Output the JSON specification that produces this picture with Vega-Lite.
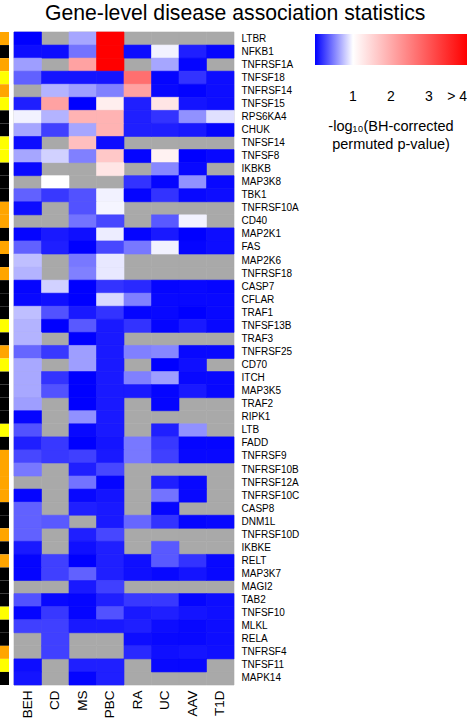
{
  "$schema": "https://vega.github.io/schema/vega-lite/v6.json",
  "padding": {"left": 0, "top": 2, "right": 0, "bottom": 0},
  "background": "white",
  "title": {"text": "Gene-level disease association statistics", "font": "Liberation Sans", "fontSize": 21.2, "fontWeight": "normal", "color": "#000", "anchor": "start", "dx": 45, "offset": 8},
  "spacing": 4,
  "data": {"values": [
    {"gene":"LTBR","type":"receptor","BEH":0.0,"CD":null,"MS":0.65,"PBC":4,"RA":null,"UC":null,"AAV":null,"T1D":null},
    {"gene":"NFKB1","type":"signalling","BEH":0.05,"CD":0.05,"MS":0.45,"PBC":4,"RA":0.05,"UC":0.95,"AAV":0.12,"T1D":0.02},
    {"gene":"TNFRSF1A","type":"receptor","BEH":0.62,"CD":null,"MS":2.1,"PBC":4,"RA":null,"UC":0.65,"AAV":0.02,"T1D":null},
    {"gene":"TNFSF18","type":"ligand","BEH":0.38,"CD":0.08,"MS":0.08,"PBC":0.08,"RA":2.7,"UC":0.02,"AAV":0.2,"T1D":0.05},
    {"gene":"TNFRSF14","type":"receptor","BEH":null,"CD":0.7,"MS":0.62,"PBC":0.5,"RA":2.1,"UC":0.03,"AAV":0.01,"T1D":0.05},
    {"gene":"TNFSF15","type":"ligand","BEH":0.12,"CD":2.1,"MS":0.0,"PBC":1.2,"RA":0.12,"UC":1.3,"AAV":0.08,"T1D":0.05},
    {"gene":"RPS6KA4","type":"signalling","BEH":0.95,"CD":0.7,"MS":1.9,"PBC":1.9,"RA":0.12,"UC":0.2,"AAV":0.57,"T1D":0.88},
    {"gene":"CHUK","type":"signalling","BEH":0.65,"CD":0.25,"MS":0.65,"PBC":1.9,"RA":0.12,"UC":0.12,"AAV":0.1,"T1D":0.02},
    {"gene":"TNFSF14","type":"ligand","BEH":0.05,"CD":null,"MS":1.75,"PBC":0.05,"RA":null,"UC":null,"AAV":null,"T1D":null},
    {"gene":"TNFSF8","type":"ligand","BEH":0.65,"CD":0.82,"MS":0.5,"PBC":1.65,"RA":0.02,"UC":1.15,"AAV":0.0,"T1D":0.03},
    {"gene":"IKBKB","type":"signalling","BEH":0.03,"CD":null,"MS":null,"PBC":1.3,"RA":null,"UC":0.53,"AAV":0.03,"T1D":null},
    {"gene":"MAP3K8","type":"signalling","BEH":null,"CD":1.0,"MS":null,"PBC":null,"RA":0.2,"UC":0.02,"AAV":0.57,"T1D":0.03},
    {"gene":"TBK1","type":"signalling","BEH":0.38,"CD":0.22,"MS":0.32,"PBC":0.95,"RA":0.02,"UC":0.2,"AAV":0.03,"T1D":0.05},
    {"gene":"TNFRSF10A","type":"receptor","BEH":0.05,"CD":null,"MS":0.32,"PBC":0.96,"RA":null,"UC":null,"AAV":null,"T1D":null},
    {"gene":"CD40","type":"receptor","BEH":null,"CD":null,"MS":0.45,"PBC":0.28,"RA":null,"UC":0.35,"AAV":0.95,"T1D":null},
    {"gene":"MAP2K1","type":"signalling","BEH":0.02,"CD":0.1,"MS":0.06,"PBC":0.93,"RA":0.02,"UC":0.1,"AAV":0.0,"T1D":0.05},
    {"gene":"FAS","type":"receptor","BEH":0.38,"CD":0.12,"MS":0.0,"PBC":0.28,"RA":0.47,"UC":0.95,"AAV":0.02,"T1D":0.05},
    {"gene":"MAP2K6","type":"signalling","BEH":0.75,"CD":null,"MS":0.47,"PBC":0.91,"RA":null,"UC":null,"AAV":null,"T1D":null},
    {"gene":"TNFRSF18","type":"receptor","BEH":0.7,"CD":null,"MS":0.5,"PBC":0.91,"RA":null,"UC":null,"AAV":null,"T1D":null},
    {"gene":"CASP7","type":"signalling","BEH":0.02,"CD":0.82,"MS":0.0,"PBC":0.2,"RA":0.16,"UC":0.02,"AAV":0.03,"T1D":0.02},
    {"gene":"CFLAR","type":"signalling","BEH":0.03,"CD":0.06,"MS":0.0,"PBC":0.85,"RA":0.5,"UC":0.03,"AAV":0.03,"T1D":0.03},
    {"gene":"TRAF1","type":"signalling","BEH":0.75,"CD":0.32,"MS":0.1,"PBC":0.2,"RA":0.02,"UC":0.03,"AAV":0.0,"T1D":0.03},
    {"gene":"TNFSF13B","type":"ligand","BEH":0.7,"CD":0.0,"MS":0.35,"PBC":0.1,"RA":0.2,"UC":0.02,"AAV":0.1,"T1D":0.03},
    {"gene":"TRAF3","type":"signalling","BEH":0.7,"CD":null,"MS":0.0,"PBC":0.1,"RA":null,"UC":null,"AAV":null,"T1D":null},
    {"gene":"TNFRSF25","type":"receptor","BEH":0.4,"CD":0.22,"MS":0.62,"PBC":0.1,"RA":0.5,"UC":0.53,"AAV":0.03,"T1D":0.03},
    {"gene":"CD70","type":"ligand","BEH":0.66,"CD":null,"MS":0.62,"PBC":0.1,"RA":null,"UC":0.0,"AAV":0.06,"T1D":null},
    {"gene":"ITCH","type":"signalling","BEH":0.66,"CD":0.2,"MS":0.0,"PBC":0.1,"RA":0.5,"UC":0.62,"AAV":0.03,"T1D":0.03},
    {"gene":"MAP3K5","type":"signalling","BEH":0.66,"CD":0.32,"MS":0.0,"PBC":0.1,"RA":0.1,"UC":0.02,"AAV":0.1,"T1D":0.03},
    {"gene":"TRAF2","type":"signalling","BEH":0.62,"CD":null,"MS":0.0,"PBC":0.1,"RA":null,"UC":0.02,"AAV":null,"T1D":null},
    {"gene":"RIPK1","type":"signalling","BEH":0.02,"CD":null,"MS":0.57,"PBC":0.1,"RA":null,"UC":null,"AAV":null,"T1D":null},
    {"gene":"LTB","type":"ligand","BEH":0.32,"CD":null,"MS":0.03,"PBC":0.1,"RA":null,"UC":0.12,"AAV":0.57,"T1D":null},
    {"gene":"FADD","type":"signalling","BEH":0.12,"CD":0.22,"MS":0.0,"PBC":0.08,"RA":0.47,"UC":0.22,"AAV":0.02,"T1D":0.02},
    {"gene":"TNFRSF9","type":"receptor","BEH":0.28,"CD":0.22,"MS":0.25,"PBC":0.1,"RA":0.47,"UC":0.25,"AAV":0.03,"T1D":0.03},
    {"gene":"TNFRSF10B","type":"receptor","BEH":0.47,"CD":null,"MS":0.12,"PBC":0.28,"RA":null,"UC":null,"AAV":null,"T1D":null},
    {"gene":"TNFRSF12A","type":"receptor","BEH":null,"CD":null,"MS":0.45,"PBC":0.02,"RA":null,"UC":0.12,"AAV":0.03,"T1D":null},
    {"gene":"TNFRSF10C","type":"receptor","BEH":0.02,"CD":null,"MS":0.03,"PBC":0.08,"RA":null,"UC":0.45,"AAV":0.03,"T1D":null},
    {"gene":"CASP8","type":"signalling","BEH":0.38,"CD":null,"MS":0.12,"PBC":0.1,"RA":null,"UC":0.02,"AAV":null,"T1D":null},
    {"gene":"DNM1L","type":"signalling","BEH":0.38,"CD":0.35,"MS":null,"PBC":0.1,"RA":0.4,"UC":0.2,"AAV":0.02,"T1D":0.03},
    {"gene":"TNFRSF10D","type":"receptor","BEH":0.38,"CD":null,"MS":0.12,"PBC":0.28,"RA":null,"UC":null,"AAV":null,"T1D":null},
    {"gene":"IKBKE","type":"signalling","BEH":0.1,"CD":null,"MS":0.06,"PBC":0.12,"RA":null,"UC":0.35,"AAV":null,"T1D":null},
    {"gene":"RELT","type":"receptor","BEH":0.02,"CD":0.25,"MS":0.0,"PBC":0.12,"RA":0.06,"UC":0.35,"AAV":0.2,"T1D":0.03},
    {"gene":"MAP3K7","type":"signalling","BEH":0.02,"CD":0.25,"MS":0.38,"PBC":0.12,"RA":0.06,"UC":0.03,"AAV":0.08,"T1D":0.03},
    {"gene":"MAGI2","type":"signalling","BEH":null,"CD":null,"MS":0.1,"PBC":0.25,"RA":null,"UC":null,"AAV":null,"T1D":null},
    {"gene":"TAB2","type":"signalling","BEH":0.32,"CD":0.03,"MS":0.02,"PBC":0.12,"RA":0.22,"UC":0.22,"AAV":0.02,"T1D":0.05},
    {"gene":"TNFSF10","type":"ligand","BEH":0.02,"CD":0.22,"MS":0.02,"PBC":0.32,"RA":0.1,"UC":0.12,"AAV":0.08,"T1D":0.06},
    {"gene":"MLKL","type":"signalling","BEH":0.25,"CD":0.25,"MS":0.1,"PBC":0.1,"RA":0.12,"UC":0.05,"AAV":0.03,"T1D":0.05},
    {"gene":"RELA","type":"signalling","BEH":null,"CD":0.25,"MS":null,"PBC":null,"RA":0.05,"UC":0.03,"AAV":0.03,"T1D":0.05},
    {"gene":"TNFRSF4","type":"receptor","BEH":null,"CD":0.25,"MS":null,"PBC":null,"RA":0.16,"UC":0.06,"AAV":0.08,"T1D":0.06},
    {"gene":"TNFSF11","type":"ligand","BEH":0.05,"CD":null,"MS":0.12,"PBC":0.12,"RA":null,"UC":0.03,"AAV":0.03,"T1D":null},
    {"gene":"MAPK14","type":"signalling","BEH":0.08,"CD":null,"MS":0.02,"PBC":0.12,"RA":null,"UC":null,"AAV":null,"T1D":null}
  ]},
  "resolve": {"scale": {"color": "independent", "stroke": "independent"}, "legend": {"color": "independent", "stroke": "independent"}},
  "hconcat": [
    {
      "width": 9,
      "height": 653,
      "mark": {"type": "rect", "strokeWidth": 0.6},
      "encoding": {
        "y": {"field": "gene", "type": "nominal", "sort": null, "axis": null, "scale": {"paddingInner": 0, "paddingOuter": 0}},
        "color": {"field": "type", "type": "nominal", "legend": null, "scale": {"domain": ["receptor", "ligand", "signalling"], "range": ["#FFA500", "#FFFF00", "#000000"]}}
      }
    },
    {
      "width": 220,
      "height": 653,
      "transform": [{"fold": ["BEH", "CD", "MS", "PBC", "RA", "UC", "AAV", "T1D"], "as": ["disease", "v"]}],
      "encoding": {
        "x": {"field": "disease", "type": "nominal", "sort": ["BEH", "CD", "MS", "PBC", "RA", "UC", "AAV", "T1D"], "scale": {"paddingInner": 0, "paddingOuter": 0},
              "axis": {"orient": "bottom", "title": null, "labelAngle": -90, "ticks": false, "domain": false, "labelFont": "Liberation Sans", "labelFontSize": 13.5, "labelColor": "#000", "labelPadding": 5}},
        "y": {"field": "gene", "type": "nominal", "sort": null, "scale": {"paddingInner": 0, "paddingOuter": 0},
              "axis": {"orient": "right", "title": null, "ticks": false, "domain": false, "labelFont": "Liberation Sans", "labelFontSize": 10, "labelColor": "#000", "labelPadding": 7}}
      },
      "layer": [
        {"mark": {"type": "rect", "fill": "#A9A9A9", "stroke": "#A9A9A9", "strokeWidth": 0.6}},
        {
          "transform": [{"filter": "isValid(datum.v)"}],
          "mark": {"type": "rect", "strokeWidth": 0.6},
          "encoding": {
            "fill": {"field": "v", "type": "quantitative",
              "scale": {"domain": [0, 1, 4], "range": ["#0000FF", "#FFFFFF", "#FF0000"], "interpolate": "rgb", "clamp": true},
              "legend": {"orient": "none", "legendX": 315, "legendY": 2, "direction": "horizontal", "gradientLength": 152, "gradientThickness": 31, "gradientStrokeWidth": 0,
                "values": [1, 2, 3, 4], "labelExpr": "datum.value == 4 ? '> 4' : datum.label", "labelFont": "Liberation Sans", "labelFontSize": 14, "labelColor": "#000", "labelOffset": 25,
                "title": ["-log₁₀(BH-corrected", "permuted p-value)"], "titleOrient": "bottom", "titleFont": "Liberation Sans", "titleFontSize": 14.5, "titleFontWeight": "normal", "titleColor": "#000", "titleAnchor": "middle", "titleAlign": "center", "titlePadding": 16, "titleLineHeight": 18, "padding": 0}
            },
            "stroke": {"field": "v", "type": "quantitative",
              "scale": {"domain": [0, 1, 4], "range": ["#0000FF", "#FFFFFF", "#FF0000"], "interpolate": "rgb", "clamp": true},
              "legend": null}
          }
        }
      ]
    }
  ],
  "config": {"view": {"stroke": null}}
}
